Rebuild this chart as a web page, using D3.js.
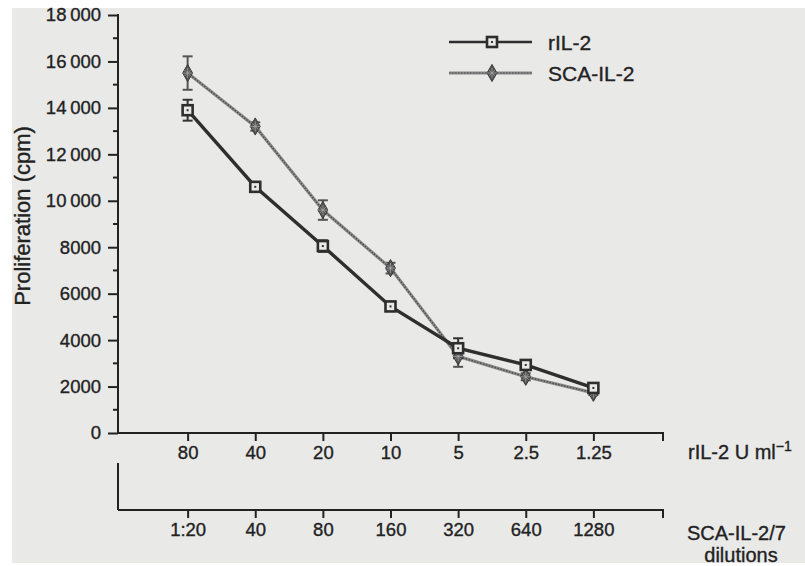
<!DOCTYPE html>
<html>
<head>
<meta charset="utf-8">
<script src="https://cdn.jsdelivr.net/npm/d3@7"></script>
<style>
  html, body { margin: 0; padding: 0; background: #fff; }
  svg { display: block; }
  svg text { font-family: "Liberation Sans", Arial, sans-serif; stroke: #222; stroke-width: 0.35px; }
</style>
</head>
<body>
<div id="chart"></div>
<script>
// values
const rilLabels = ['80', '40', '20', '10', '5', '2.5', '1.25']
const scaLabels = ['1:20', '40', '80', '160', '320', '640', '1280']
const rilValues = [13900, 10600, 8050, 5450, 3650, 2930, 1940]
const rilErrors = [450, 150, 250, 150, 430, 150, 150]
const scaValues = [15500, 13200, 9600, 7100, 3300, 2420, 1730]
const scaErrors = [720, 180, 420, 230, 450, 150, 100]
const yTicks = [0, 2000, 4000, 6000, 8000, 10000, 12000, 14000, 16000, 18000]

const width = 805, height = 566
const svg = d3.select('#chart').append('svg')
  .attr('width', width)
  .attr('height', height)

// scanned page tone
svg.append('rect')
  .attr('x', 12).attr('y', 8)
  .attr('width', width - 12).attr('height', 555)
  .attr('fill', '#e9e9e8')

const ink = '#222'
const x0 = 118, x1 = 663
const y = d3.scaleLinear().domain([0, 18000]).range([433, 15])
const x = d3.scalePoint().domain(d3.range(7)).range([120, 661]).padding(1)

// y axis
const yAxis = svg.append('g')
  .attr('transform', `translate(${x0},0)`)
  .call(d3.axisLeft(y).tickValues(yTicks).tickSize(10).tickPadding(7)
    .tickFormat(d => d >= 10000 ? d3.format(',')(d).replace(',', '\u2009') : d))
  .attr('font-family', null).attr('font-size', null)
yAxis.select('.domain').remove()
yAxis.selectAll('line').attr('stroke', ink).attr('stroke-width', 2)
yAxis.selectAll('text').attr('font-size', 18.5).attr('fill', ink)
yAxis.selectAll('.minor')
  .data(d3.range(1000, 18000, 2000))
  .join('line')
  .attr('x1', -5).attr('x2', 0)
  .attr('y1', d => y(d)).attr('y2', d => y(d))
  .attr('stroke', ink).attr('stroke-width', 2)
svg.append('line')
  .attr('x1', x0).attr('x2', x0).attr('y1', y(18000) - 1).attr('y2', 434)
  .attr('stroke', ink).attr('stroke-width', 2)

svg.append('text')
  .attr('transform', 'translate(30,216) rotate(-90)')
  .attr('text-anchor', 'middle')
  .attr('font-size', 22)
  .attr('fill', ink)
  .text('Proliferation (cpm)')

// two x axes
function drawXAxis(yPos, labels) {
  const g = svg.append('g').attr('transform', `translate(0,${yPos})`)
    .call(d3.axisBottom(x).tickSize(8).tickPadding(5).tickFormat(i => labels[i]))
    .attr('font-family', null).attr('font-size', null)
  g.select('.domain').remove()
  g.selectAll('line').attr('stroke', ink).attr('stroke-width', 2)
  g.selectAll('text').attr('font-size', 18.5).attr('fill', ink)
  g.append('path')
    .attr('d', `M${x0},0H${x1}V8`)
    .attr('fill', 'none').attr('stroke', ink).attr('stroke-width', 2)
  return g
}
drawXAxis(433, rilLabels)
const ax2 = drawXAxis(510, scaLabels)
ax2.append('line')
  .attr('x1', x0).attr('x2', x0).attr('y1', -47).attr('y2', 0)
  .attr('stroke', ink).attr('stroke-width', 2)

const t1 = svg.append('text').attr('x', 688).attr('y', 459)
  .attr('font-size', 20).attr('fill', ink)
t1.append('tspan').text('rIL-2 U ml')
t1.append('tspan').attr('dy', -8).attr('font-size', 14).text('\u22121')
svg.append('text').attr('x', 687).attr('y', 540)
  .attr('font-size', 20).attr('fill', ink).text('SCA-IL-2/7')
svg.append('text').attr('x', 741).attr('y', 562).attr('text-anchor', 'middle')
  .attr('font-size', 20).attr('fill', ink).text('dilutions')

// series
const line = d3.line().x((d, i) => x(i)).y(d => y(d))

function errorBars(values, errors, color) {
  const g = svg.append('g').attr('stroke', color).attr('stroke-width', 2)
  values.forEach((v, i) => {
    const cx = x(i)
    g.append('line').attr('x1', cx).attr('x2', cx)
      .attr('y1', y(v + errors[i])).attr('y2', y(v - errors[i]))
    ;[v + errors[i], v - errors[i]].forEach(e => {
      g.append('line').attr('x1', cx - 5).attr('x2', cx + 5)
        .attr('y1', y(e)).attr('y2', y(e))
    })
  })
}

// SCA-IL-2: hatched grey line
errorBars(scaValues, scaErrors, '#555')
svg.append('path').datum(scaValues).attr('d', line)
  .attr('fill', 'none').attr('stroke', '#8a8a8a').attr('stroke-width', 3.2)
svg.append('path').datum(scaValues).attr('d', line)
  .attr('fill', 'none').attr('stroke', '#4a4a4a').attr('stroke-width', 1.4)
  .attr('stroke-dasharray', '1.5,1.5')

// rIL-2: dark solid line
errorBars(rilValues, rilErrors, '#333')
svg.append('path').datum(rilValues).attr('d', line)
  .attr('fill', 'none').attr('stroke', '#2e2e2e').attr('stroke-width', 3.4)

function scaMarker(sel) {
  sel.append('path').attr('d', d3.symbol(d3.symbolDiamond, 85)())
    .attr('fill', '#555').attr('stroke', '#3a3a3a').attr('stroke-width', 1)
  sel.append('path').attr('d', 'M-3,-3L3,3M-3,3L3,-3M0,-5V5M-5,0H5')
    .attr('stroke', '#aaa').attr('stroke-width', 0.7)
}
function rilMarker(sel) {
  sel.append('rect').attr('x', -5).attr('y', -5).attr('width', 10).attr('height', 10)
    .attr('fill', '#e9e9e8').attr('stroke', '#2e2e2e').attr('stroke-width', 2.6)
  sel.append('rect').attr('x', -1).attr('y', -1).attr('width', 2).attr('height', 2)
    .attr('fill', '#333')
}

svg.append('g').selectAll('g').data(scaValues).join('g')
  .attr('transform', (d, i) => `translate(${x(i)},${y(d)})`)
  .call(scaMarker)
svg.append('g').selectAll('g').data(rilValues).join('g')
  .attr('transform', (d, i) => `translate(${x(i)},${y(d)})`)
  .call(rilMarker)

// legend
const legend = svg.append('g')
const lg1 = legend.append('g').attr('transform', 'translate(449,42)')
lg1.append('line').attr('x1', 0).attr('x2', 83)
  .attr('stroke', '#2e2e2e').attr('stroke-width', 2.5)
lg1.append('g').attr('transform', 'translate(43,0)').call(rilMarker)
lg1.append('text').attr('x', 99).attr('y', 7.5).attr('font-size', 21).attr('fill', ink).text('rIL-2')

const lg2 = legend.append('g').attr('transform', 'translate(449,73)')
lg2.append('line').attr('x1', 0).attr('x2', 83)
  .attr('stroke', '#8a8a8a').attr('stroke-width', 3)
lg2.append('line').attr('x1', 0).attr('x2', 83)
  .attr('stroke', '#4a4a4a').attr('stroke-width', 1.2).attr('stroke-dasharray', '1.5,1.5')
lg2.append('g').attr('transform', 'translate(43,0)').call(scaMarker)
lg2.append('text').attr('x', 99).attr('y', 7.5).attr('font-size', 21).attr('fill', ink).text('SCA-IL-2')
</script>
</body>
</html>
